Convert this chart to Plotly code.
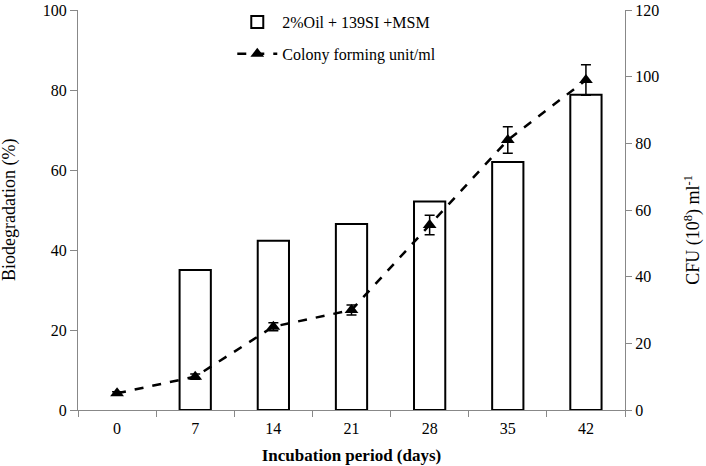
import plotly.graph_objects as go

days = ["0", "7", "14", "21", "28", "35", "42"]
biodegradation = [None, 35, 42.3, 46.5, 52.1, 62, 78.8]
cfu = [5, 10, 25, 30, 55.5, 81, 99]
cfu_err = [0.5, 0.8, 1.2, 1.5, 2.9, 4.0, 4.6]

FONT = "Liberation Serif, Times New Roman, serif"

fig = go.Figure()
fig.add_trace(go.Bar(
    x=days, y=biodegradation, name="2%Oil + 139SI +MSM",
    width=0.4, marker=dict(color="white", line=dict(color="black", width=2)),
    yaxis="y", legendgroup="a",
))
fig.add_trace(go.Scatter(
    x=days, y=cfu, name="Colony forming unit/ml", yaxis="y2", legendgroup="b",
    mode="lines+markers",
    line=dict(color="black", width=2.5, dash="dash"),
    marker=dict(symbol="triangle-up", size=12, color="black"),
    error_y=dict(type="data", array=cfu_err, visible=True, color="black", thickness=1.5, width=5),
))

fig.update_layout(
    width=706, height=466,
    margin=dict(l=78, r=81, t=10, b=56, autoexpand=False),
    plot_bgcolor="white", paper_bgcolor="white",
    font=dict(family=FONT, size=16, color="black"),
    showlegend=True,
    legend=dict(x=0.329, y=0.989, xref="container", yref="container",
                xanchor="left", yanchor="top",
                bgcolor="rgba(0,0,0,0)", font=dict(family=FONT, size=16),
                tracegroupgap=8, itemwidth=40),
    xaxis=dict(
        type="category", showline=True, linecolor="#888888", linewidth=1,
        ticks="outside", tickson="boundaries", tickcolor="#888888", ticklen=6,
        ticklabelstandoff=4,
        showgrid=False, zeroline=False,
        tickfont=dict(family=FONT, size=16),
        title=dict(text="<b>Incubation period (days)</b>", font=dict(family=FONT, size=17), standoff=12),
    ),
    yaxis=dict(
        range=[0, 100], dtick=20, showline=True, linecolor="#888888", linewidth=1,
        ticks="outside", tickcolor="#888888", ticklen=7,
        showgrid=False, zeroline=False,
        tickfont=dict(family=FONT, size=16),
    ),
    yaxis2=dict(
        range=[0, 120], dtick=20, overlaying="y", side="right",
        showline=True, linecolor="#888888", linewidth=1,
        ticks="outside", tickcolor="#888888", ticklen=6,
        showgrid=False, zeroline=False,
        tickfont=dict(family=FONT, size=16),
    ),
    annotations=[
        dict(text="Biodegradation (%)", xref="paper", yref="paper",
             x=-0.126, y=0.5, xanchor="center", yanchor="middle",
             textangle=-90, showarrow=False, font=dict(family=FONT, size=18)),
        dict(text="CFU (10<sup>8</sup>) ml<sup>-1</sup>", xref="paper", yref="paper",
             x=1.124, y=0.45, xanchor="center", yanchor="middle",
             textangle=-90, showarrow=False, font=dict(family=FONT, size=18)),
    ],
)

fig.write_html("out.html", config={"displayModeBar": False},
               post_script="document.body.style.margin='0px';")
